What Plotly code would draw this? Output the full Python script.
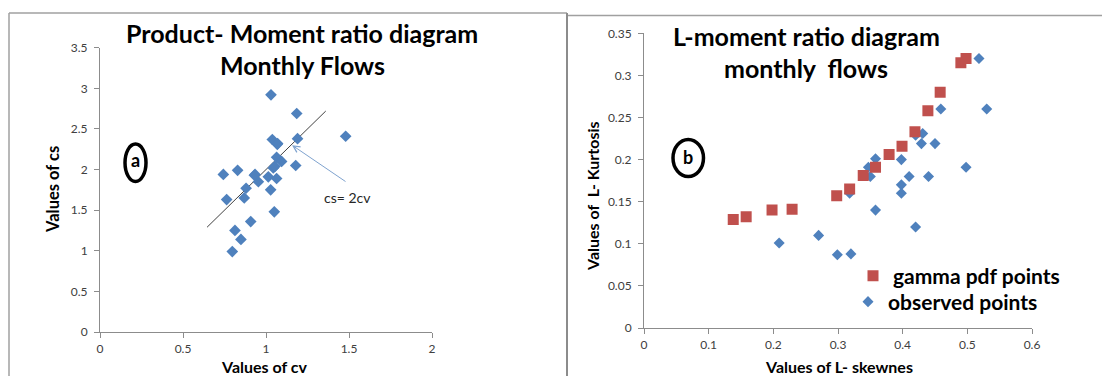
import plotly.graph_objects as go

W, H = 1110, 376
OFF = 8  # default page margin of the html body

# ---------------- data ----------------
# Panel (a): product-moment ratios, monthly flows
cv_values = [1.03, 1.185, 1.48, 1.038, 1.068, 1.19, 1.064, 1.094, 1.044, 1.179,
             0.934, 0.743, 0.829, 0.954, 1.014, 1.064, 0.88, 0.869, 1.028, 0.763,
             1.05, 0.908, 0.813, 0.849, 0.797, 0.93, 1.054, 1.07]
cs_values = [2.92, 2.69, 2.41, 2.37, 2.31, 2.38, 2.15, 2.10, 2.02, 2.05,
             1.94, 1.94, 1.99, 1.85, 1.91, 1.89, 1.77, 1.65, 1.75, 1.63,
             1.48, 1.36, 1.25, 1.14, 0.99, 1.93, 2.04, 2.32]
line_cv = [0.645, 1.36]
line_cs = [2 * v for v in line_cv]   # cs = 2cv reference line

# Panel (b): L-moment ratios, monthly flows
gamma_lskew = [0.138, 0.158, 0.198, 0.229, 0.298, 0.318, 0.339, 0.358, 0.379, 0.399,
               0.419, 0.439, 0.458, 0.49, 0.498]
gamma_lkurt = [0.129, 0.132, 0.140, 0.141, 0.157, 0.165, 0.181, 0.191, 0.206, 0.216,
               0.233, 0.258, 0.280, 0.315, 0.320]
obs_lskew = [0.518, 0.53, 0.459, 0.431, 0.42, 0.429, 0.45, 0.398, 0.358, 0.347,
             0.35, 0.41, 0.44, 0.398, 0.398, 0.498, 0.318, 0.358, 0.42, 0.209,
             0.27, 0.299, 0.32]
obs_lkurt = [0.320, 0.260, 0.260, 0.231, 0.229, 0.219, 0.219, 0.200, 0.201, 0.191,
             0.180, 0.180, 0.180, 0.170, 0.160, 0.191, 0.160, 0.140, 0.120, 0.101,
             0.110, 0.087, 0.088]

left_xticks = [0, 0.5, 1, 1.5, 2]
left_yticks = [0, 0.5, 1, 1.5, 2, 2.5, 3, 3.5]
right_xticks = [0, 0.1, 0.2, 0.3, 0.4, 0.5, 0.6]
right_yticks = [0, 0.05, 0.1, 0.15, 0.2, 0.25, 0.3, 0.35]

BLUE = "#4F81BD"
RED = "#C0504D"
FONT = "Lato"
TICKC = "#404040"
AXC = "#8C8C8C"


def px(x):
    return (x - OFF) / W


def py(y):
    return 1 - (y - OFF) / H


fig = go.Figure()

fig.add_trace(go.Scatter(x=line_cv, y=line_cs, mode="lines",
                         line=dict(color="#404040", width=1),
                         xaxis="x", yaxis="y", showlegend=False, hoverinfo="skip"))
fig.add_trace(go.Scatter(x=cv_values, y=cs_values, mode="markers",
                         marker=dict(symbol="diamond", size=9, color=BLUE),
                         xaxis="x", yaxis="y", showlegend=False))

fig.add_trace(go.Scatter(x=obs_lskew, y=obs_lkurt, mode="markers",
                         name="<b>observed points</b>", legend="legend2",
                         marker=dict(symbol="diamond", size=8.5, color=BLUE),
                         xaxis="x2", yaxis="y2"))
fig.add_trace(go.Scatter(x=gamma_lskew, y=gamma_lkurt, mode="markers",
                         name="<b>gamma pdf points</b>", legend="legend",
                         marker=dict(symbol="square", size=11, color=RED),
                         xaxis="x2", yaxis="y2"))

axis_common = dict(showgrid=False, zeroline=False, showline=True, linecolor=AXC,
                   linewidth=1, ticks="outside", ticklen=5, tickcolor=AXC,
                   tickfont=dict(family=FONT, size=12, color=TICKC),
                   automargin=False)
xaxis_extra = dict(ticklabelstandoff=1)
yaxis_extra = dict(ticklabelstandoff=4)

legend_common = dict(xanchor="left", yanchor="middle", bgcolor="rgba(0,0,0,0)",
                     font=dict(family=FONT, size=21, color="#000000"),
                     itemsizing="trace", borderwidth=0)

fig.update_layout(
    width=W, height=H,
    margin=dict(l=0, r=0, t=0, b=0, pad=0, autoexpand=False),
    paper_bgcolor="white", plot_bgcolor="white",
    xaxis=dict(domain=[px(100), px(432)], range=[0, 2], tickvals=left_xticks,
               ticktext=[f"{v:g}" for v in left_xticks], anchor="y",
               **axis_common, **xaxis_extra),
    yaxis=dict(domain=[py(332), py(47.7)], range=[0, 3.5], tickvals=left_yticks,
               ticktext=[f"{v:g}" for v in left_yticks], anchor="x",
               **axis_common, **yaxis_extra),
    xaxis2=dict(domain=[px(644), px(1032)], range=[0, 0.6], tickvals=right_xticks,
                ticktext=[f"{v:g}" for v in right_xticks], anchor="y2",
                **axis_common, **xaxis_extra),
    yaxis2=dict(domain=[py(328), py(33.3)], range=[0, 0.35], tickvals=right_yticks,
                ticktext=[f"{v:g}" for v in right_yticks], anchor="x2",
                **axis_common, **yaxis_extra),
    showlegend=True,
    legend=dict(x=px(853), y=py(276), **legend_common),
    legend2=dict(x=px(848), y=py(302), **legend_common),
)

shapes = [
    # chart frames
    dict(type="line", xref="paper", yref="paper", x0=px(9), x1=px(9), y0=py(13), y1=py(400),
         line=dict(color="#A0A0A0", width=1.5)),
    dict(type="line", xref="paper", yref="paper", x0=px(9), x1=px(567), y0=py(13), y1=py(13),
         line=dict(color="#A0A0A0", width=1.5)),
    dict(type="line", xref="paper", yref="paper", x0=px(567), x1=px(567), y0=py(13), y1=py(400),
         line=dict(color="#8C8C8C", width=2)),
    dict(type="line", xref="paper", yref="paper", x0=px(568), x1=1, y0=py(15.5), y1=py(15.5),
         line=dict(color="#A0A0A0", width=1.5)),
    # circled panel labels
    dict(type="circle", xref="paper", yref="paper", x0=px(125), x1=px(146), y0=py(181.5), y1=py(144),
         line=dict(color="black", width=3.5)),
    dict(type="circle", xref="paper", yref="paper", x0=px(673), x1=px(703.5), y0=py(176.5), y1=py(139.5),
         line=dict(color="black", width=3.5)),
]
fig.update_layout(shapes=shapes)

ann = []


def text(x, y, s, size, bold=False, angle=0, color="black", xanchor="center"):
    ann.append(dict(xref="paper", yref="paper", x=px(x), y=py(y), text=f"<b>{s}</b>" if bold else s,
                    showarrow=False, xanchor=xanchor, yanchor="middle", textangle=angle,
                    font=dict(family=FONT, size=size, color=color)))


# titles
text(302, 33, "Product- Moment ratio diagram", 25, bold=True)
text(302, 65, "Monthly Flows", 25, bold=True)
text(806, 36, "L-moment ratio diagram", 25, bold=True)
text(806, 68, "monthly  flows", 25, bold=True)
# axis titles
text(264.5, 366, "Values of cv", 16, bold=True)
text(53, 190, "Values of cs", 16.5, bold=True, angle=-90)
text(838.5, 366, "Values of L- skewnes", 16, bold=True)
text(592, 196, "Values of  L- Kurtosis", 16, bold=True, angle=-90)
# panel letters
text(135.5, 160, "a", 18, bold=True)
text(688, 157, "b", 18, bold=True)

# cs = 2cv annotation with arrow
ann.append(dict(xref="x", yref="y", x=1.157, y=2.30, axref="x", ayref="y", ax=1.488, ay=1.84,
                showarrow=True, arrowhead=5, arrowsize=1.3, arrowwidth=1, arrowcolor="#7FA3CF",
                text=""))
ann.append(dict(xref="x", yref="y", x=1.488, y=1.66, text="cs= 2cv", showarrow=False,
                font=dict(family=FONT, size=14, color="#262626")))

fig.update_layout(annotations=ann)

fig.write_html("out.html")
